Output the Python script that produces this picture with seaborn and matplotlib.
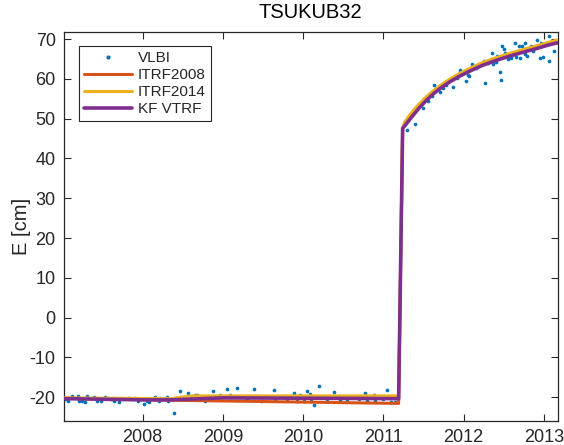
import numpy as np
import pandas as pd
import matplotlib
matplotlib.use("Agg")
import matplotlib.pyplot as plt
import seaborn as sns
from matplotlib.lines import Line2D

# ---------------- data ----------------
vlbi_t = [2007.03, 2007.07, 2007.12, 2007.20, 2007.21, 2007.24, 2007.28, 2007.31, 2007.39, 2007.43,
          2007.48, 2007.53, 2007.60, 2007.64, 2007.70, 2007.83, 2007.91, 2007.94, 2008.02, 2008.05,
          2008.08, 2008.16, 2008.20, 2008.22, 2008.30, 2008.32, 2008.39, 2008.47, 2008.57, 2008.60,
          2008.65, 2008.68, 2008.78, 2008.88, 2008.97, 2009.05, 2009.09, 2009.18, 2009.30, 2009.39,
          2009.47, 2009.64, 2009.65, 2009.80, 2009.88, 2009.92, 2009.96, 2010.01, 2010.05, 2010.09,
          2010.10, 2010.14, 2010.20, 2010.30, 2010.38, 2010.46, 2010.55, 2010.70, 2010.77, 2010.80,
          2010.88, 2010.90, 2011.00, 2011.04, 2011.09, 2011.15,
          2011.30, 2011.39, 2011.49, 2011.55, 2011.60, 2011.63, 2011.68, 2011.71, 2011.74, 2011.78,
          2011.80, 2011.87, 2011.92, 2011.96, 2011.98, 2012.03, 2012.05, 2012.07, 2012.11, 2012.15,
          2012.20, 2012.25, 2012.27, 2012.30, 2012.34, 2012.35, 2012.37, 2012.40, 2012.42, 2012.45,
          2012.46, 2012.48, 2012.50, 2012.51, 2012.55, 2012.59, 2012.60, 2012.62, 2012.64, 2012.65,
          2012.69, 2012.70, 2012.73, 2012.77, 2012.77, 2012.79, 2012.84, 2012.87, 2012.91, 2012.95,
          2012.96, 2012.99, 2013.06, 2013.06, 2013.11, 2013.13]
vlbi_e = [-20.5, -21.1, -19.8, -19.8, -20.9, -20.9, -21.2, -19.8, -20.1, -21.1,
          -20.9, -20.1, -20.6, -21.1, -21.3, -20.3, -20.3, -21.1, -21.7, -21.1,
          -21.3, -20.1, -21.1, -20.3, -20.1, -20.9, -23.9, -18.6, -19.0, -20.3,
          -19.4, -19.6, -20.9, -18.4, -19.4, -17.9, -19.4, -17.7, -20.4, -18.0,
          -20.9, -18.3, -20.8, -20.5, -18.9, -20.9, -19.6, -20.9, -18.6, -19.2,
          -20.9, -21.9, -17.2, -20.6, -18.7, -20.7, -20.9, -20.4, -18.9, -21.1,
          -19.6, -20.9, -20.5, -18.3, -21.3, -21.3,
          47.2, 48.6, 52.7, 54.5, 55.8, 58.5, 57.5, 56.7, 57.7, 58.6,
          59.5, 58.1, 60.2, 62.3, 61.2, 59.4, 61.0, 60.8, 63.7, 62.8,
          63.5, 64.4, 58.9, 64.0, 65.0, 66.5, 63.7, 64.2, 65.7, 61.7,
          59.8, 68.4, 67.6, 66.5, 65.0, 65.2, 66.0, 66.5, 69.0, 65.4,
          68.4, 65.2, 68.2, 69.0, 66.2, 65.7, 68.4, 67.1, 69.7, 65.2,
          69.0, 65.4, 64.6, 70.9, 69.4, 67.1]

post_t = [2011.27, 2011.32, 2011.38, 2011.45, 2011.53, 2011.62, 2011.72, 2011.83, 2011.95,
          2012.08, 2012.22, 2012.38, 2012.55, 2012.72, 2012.90, 2013.05, 2013.17]

itrf08_t = [2007.02, 2008.35, 2011.19, 2011.24] + post_t
itrf08_e = [-20.3, -20.8, -21.6, 47.5,
            49.1, 50.5, 52.0, 53.6, 55.2, 56.8, 58.3, 59.8, 61.2,
            62.5, 63.8, 65.0, 66.1, 67.1, 68.1, 69.0, 69.6]

itrf14_t = [2007.02, 2008.35, 2008.60, 2011.19, 2011.24] + post_t
itrf14_e = [-20.2, -20.4, -19.7, -19.7, 47.5,
            49.3, 50.7, 52.2, 53.8, 55.4, 57.0, 58.5, 60.0, 61.4,
            62.7, 64.0, 65.2, 66.3, 67.3, 68.3, 69.2, 69.8]

kf_t = [2007.02, 2008.0, 2008.35, 2009.0, 2011.19, 2011.24] + post_t
kf_e = [-20.4, -20.7, -20.7, -20.2, -20.4, 47.6,
        48.3, 49.6, 51.1, 52.8, 54.5, 56.2, 57.8, 59.3, 60.7,
        62.0, 63.3, 64.5, 65.6, 66.6, 67.6, 68.5, 69.1]

series_names = ["VLBI", "ITRF2008", "ITRF2014", "KF VTRF"]
colors = {"VLBI": "#0072BD", "ITRF2008": "#D95319", "ITRF2014": "#EDB120", "KF VTRF": "#7E2F8E"}

# ---------------- plot ----------------
sns.set_style("white")
plt.rcParams["font.family"] = ["Liberation Sans", "DejaVu Sans"]

fig = plt.figure(figsize=(5.64, 4.45), dpi=100)
ax = fig.add_axes([0.1135, 0.055, 0.875, 0.873])

sns.scatterplot(x=vlbi_t, y=vlbi_e, ax=ax, color=colors["VLBI"], s=7, linewidth=0, zorder=2)
sns.lineplot(x=itrf08_t, y=itrf08_e, ax=ax, color=colors["ITRF2008"], lw=2.2, sort=False,
             estimator=None, zorder=3)
sns.lineplot(x=itrf14_t, y=itrf14_e, ax=ax, color=colors["ITRF2014"], lw=2.2, sort=False,
             estimator=None, zorder=4)
sns.lineplot(x=kf_t, y=kf_e, ax=ax, color=colors["KF VTRF"], lw=2.6, sort=False,
             estimator=None, zorder=5)

ax.set_xlim(2007.02, 2013.17)
ax.set_ylim(-25.9, 71.8)
ax.set_xticks([2008, 2009, 2010, 2011, 2012, 2013])
ax.set_xticklabels(["2008", "2009", "2010", "2011", "2012", "2013"])
ax.set_yticks(np.arange(-20, 71, 10))
ax.set_yticklabels([str(v) for v in range(-20, 71, 10)])

edge = "#262626"
for sp in ax.spines.values():
    sp.set_visible(True)
    sp.set_color(edge)
    sp.set_linewidth(0.9)
ax.tick_params(direction="in", length=5, width=0.8, color=edge, labelcolor=edge,
               labelsize=13, top=True, right=True, bottom=True, left=True, pad=6)

ax.set_title("TSUKUB32", fontsize=14.5, color="black", pad=10)
ax.set_ylabel("E [cm]", fontsize=14.5, color=edge, labelpad=-1)
ax.set_xlabel("")

handles = [
    Line2D([], [], color=colors["VLBI"], marker=".", linestyle="none", markersize=4),
    Line2D([], [], color=colors["ITRF2008"], lw=2.2),
    Line2D([], [], color=colors["ITRF2014"], lw=2.2),
    Line2D([], [], color=colors["KF VTRF"], lw=2.6),
]
leg = ax.legend(handles, series_names, loc="upper left", bbox_to_anchor=(0.03, 0.965),
                fontsize=11, frameon=True, fancybox=False, edgecolor="#262626",
                framealpha=1, handlelength=3.1, handletextpad=0.4, labelspacing=0.2,
                borderpad=0.35, borderaxespad=0)
leg.get_frame().set_linewidth(0.8)

fig.savefig("out.png", dpi=100)
